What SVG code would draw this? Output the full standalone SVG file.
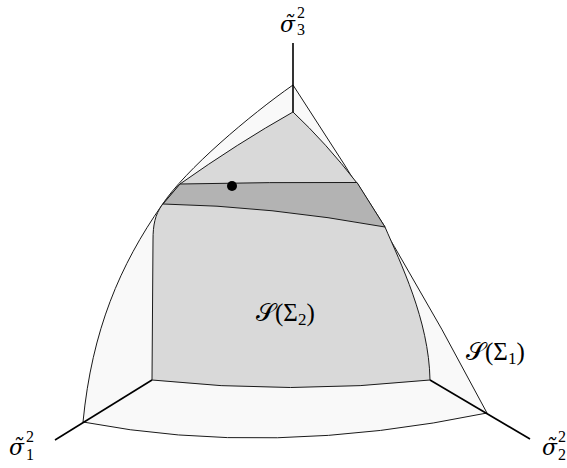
<svg xmlns="http://www.w3.org/2000/svg" width="567" height="468" viewBox="0 0 567 468">
<style>
.outer{fill:#f9f9f9;stroke:#1a1a1a;stroke-width:1}
.inner{fill:#d9d9d9;stroke:#1a1a1a;stroke-width:1}
.band{fill:#b3b3b3;stroke:#1a1a1a;stroke-width:1}
.axis{stroke:#000;stroke-width:1.6;fill:none}
.lbl{font-family:"Liberation Serif","DejaVu Serif",serif;fill:#000}
.sig{font-family:"DejaVu Serif",serif;font-style:italic;font-size:22px;fill:#000}
.idx{font-family:"Liberation Serif","DejaVu Serif",serif;font-style:normal;font-size:16px}
</style>
<rect width="567" height="468" fill="#fff"/>
<g id="outer-surface">
<path class="outer" d="M293,85 C250,115 185,170 162,205 C120,265 92,330 83,422 Q270,458 487,413 Q398.6,244 293,85 Z"/>
</g>
<g id="inner-surface">
<path class="inner" d="M293,112 Q238,143 180,184 L162,205 C155,215 153,225 153,240 L152,380 Q290,395 430,380 C429,320 400,262 385,227 L357,183 Q326,143 293,112 Z"/>
</g>
<g id="band">
<path class="band" d="M180,184 Q270,182 357,182.5 L385,227 Q270,206 163,204 Z"/>
</g>
<g id="axes">
<line class="axis" x1="293" y1="43" x2="293" y2="112"/>
<line class="axis" x1="55" y1="440" x2="152" y2="380"/>
<line class="axis" x1="430" y1="380" x2="530" y2="439"/>
</g>
<g id="point">
<circle cx="232" cy="186" r="5" fill="#000"/>
</g>
<g id="label-s3">
<text class="sig" x="280" y="32">σ̃<tspan class="idx" x="297" y="18">2</tspan><tspan class="idx" x="297" y="35">3</tspan></text>
</g>
<g id="label-s1">
<text class="sig" x="9" y="455">σ̃<tspan class="idx" x="26" y="442">2</tspan><tspan class="idx" x="26" y="460">1</tspan></text>
</g>
<g id="label-s2">
<text class="sig" x="542" y="455">σ̃<tspan class="idx" x="558" y="442">2</tspan><tspan class="idx" x="558" y="460">2</tspan></text>
</g>
<g id="label-S2">
<text class="lbl" x="256" y="321" font-size="25">𝒮(Σ<tspan font-size="17" dy="4">2</tspan><tspan dy="-4">)</tspan></text>
</g>
<g id="label-S1">
<text class="lbl" x="466" y="360" font-size="25">𝒮(Σ<tspan font-size="17" dy="4">1</tspan><tspan dy="-4">)</tspan></text>
</g>
</svg>
